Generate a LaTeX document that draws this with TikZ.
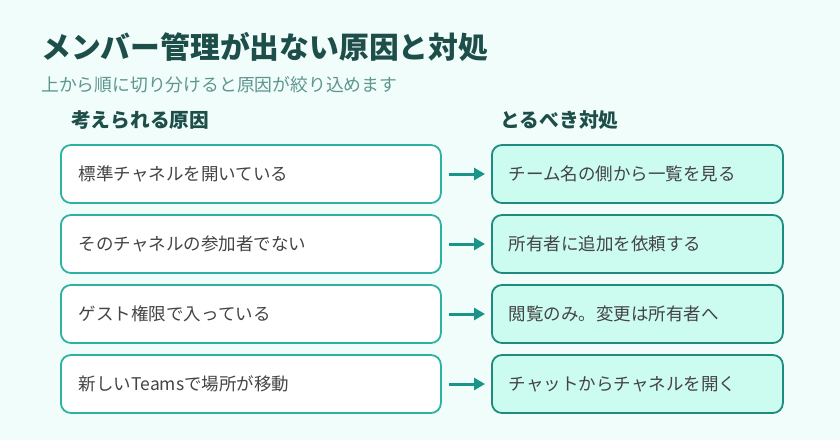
\documentclass[tikz,border=0pt]{standalone}
\usepackage{fontspec}
\setmainfont{Noto Sans CJK JP}
\usepackage{tikz}
\usetikzlibrary{arrows.meta,positioning}
\usepackage{xcolor}

\definecolor{bgmint}{HTML}{F0FDFA}
\definecolor{titleteal}{HTML}{1D4E49}
\definecolor{subteal}{HTML}{5E968F}
\definecolor{causeline}{HTML}{2DB1A1}
\definecolor{fixline}{HTML}{1F8A7E}
\definecolor{fixfill}{HTML}{CCFBEF}
\definecolor{arrowteal}{HTML}{1A9488}
\definecolor{bodytext}{HTML}{444444}

\begin{document}
\begin{tikzpicture}[
    x=1pt, y=-1pt,
    cause/.style={rectangle, rounded corners=10pt, draw=causeline, line width=1.8pt, fill=white,
        minimum height=58pt, text width=344pt, inner xsep=18pt, align=left, anchor=west,
        text=bodytext, font=\fontsize{17.5}{21}\selectfont},
    fix/.style={rectangle, rounded corners=10pt, draw=fixline, line width=1.8pt, fill=fixfill,
        minimum height=58pt, text width=257pt, inner xsep=17pt, align=left, anchor=west,
        text=bodytext, font=\fontsize{17.5}{21}\selectfont},
    head/.style={anchor=west, inner sep=0pt, text=titleteal, font=\fontsize{19.7}{23}\selectfont\bfseries},
    toarrow/.style={-{Triangle[length=11pt,width=12pt]}, line width=3pt, draw=arrowteal,
        shorten <=7pt, shorten >=6pt}
]
    % background
    \fill[bgmint] (0,0) rectangle (840,440);

    % Title
    \node[anchor=west, inner sep=0pt, text=titleteal, font=\fontsize{29.8}{34}\selectfont\bfseries]
        (title) at (41,47) {メンバー管理が出ない原因と対処};
    \node[anchor=west, inner sep=0pt, text=subteal, font=\fontsize{17.8}{21}\selectfont]
        (subtitle) at (41,85) {上から順に切り分けると原因が絞り込めます};

    % Column heads
    \node[head] (hcause) at (71,120) {考えられる原因};
    \node[head] (hfix) at (500,120) {とるべき対処};

    % Causes
    \node[cause] (c1) at (60,174) {標準チャネルを開いている};
    \node[cause] (c2) at (60,244) {そのチャネルの参加者でない};
    \node[cause] (c3) at (60,314) {ゲスト権限で入っている};
    \node[cause] (c4) at (60,384) {新しいTeamsで場所が移動};

    % Fixes
    \node[fix] (f1) at (491,174) {チーム名の側から一覧を見る};
    \node[fix] (f2) at (491,244) {所有者に追加を依頼する};
    \node[fix] (f3) at (491,314) {閲覧のみ。変更は所有者へ};
    \node[fix] (f4) at (491,384) {チャットからチャネルを開く};

    % Arrows
    \draw[toarrow] (c1) -- (f1);
    \draw[toarrow] (c2) -- (f2);
    \draw[toarrow] (c3) -- (f3);
    \draw[toarrow] (c4) -- (f4);
\end{tikzpicture}
\end{document}
